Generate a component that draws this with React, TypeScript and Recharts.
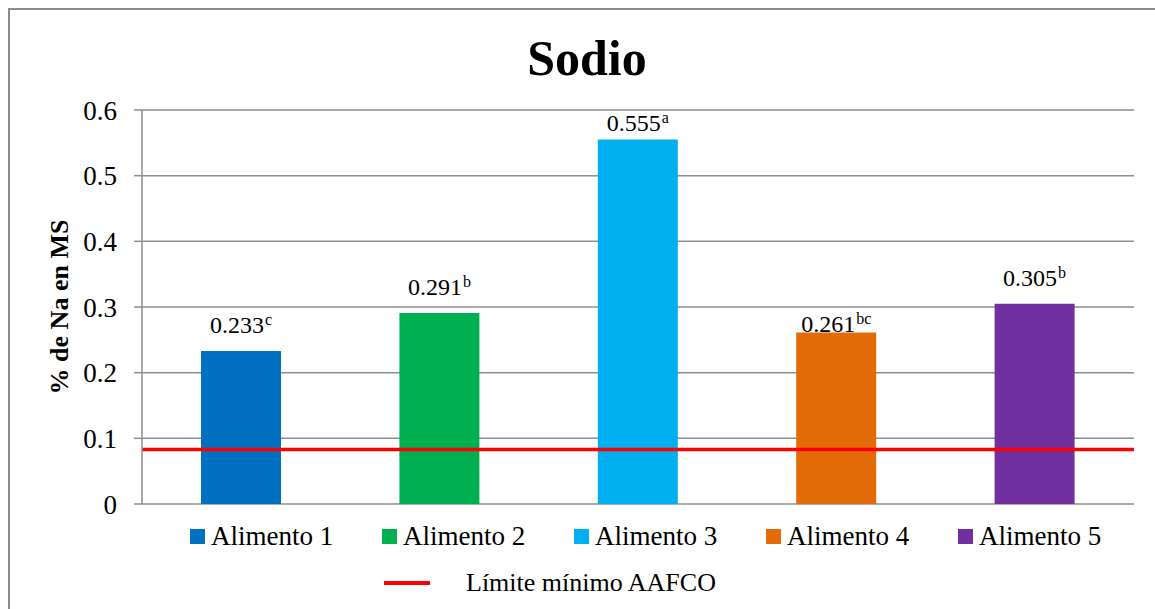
import { BarChart, Bar, Cell, XAxis, YAxis, CartesianGrid, ReferenceLine, LabelList } from "recharts";

const foods = ["Alimento 1", "Alimento 2", "Alimento 3", "Alimento 4", "Alimento 5"];
const sodium = [0.233, 0.291, 0.555, 0.261, 0.305];
const groups = ["c", "b", "a", "bc", "b"];
const colors = ["#0070C0", "#00B050", "#00B0F0", "#E36C09", "#7030A0"];
const aafcoMin = 0.083;
const yTicks = [0, 0.1, 0.2, 0.3, 0.4, 0.5, 0.6];

const data = foods.map((name, i) => ({ name, value: sodium[i], group: groups[i] }));

const FONT = '"Liberation Serif", "Times New Roman", serif';
const GRID = "#8e8e8e";

// labels sit above the bars; two of them were nudged down by hand
const labelLift: Record<string, number> = { "Alimento 3": 9, "Alimento 4": 1 };

function ValueLabel(props: any) {
  const { x, y, width, index } = props;
  const d = data[index];
  const lift = labelLift[d.name] ?? 18;
  return (
    <text x={x + width / 2} y={y - lift} textAnchor="middle" fontSize={24} fill="#000" fontFamily={FONT}>
      <tspan>{d.value.toFixed(3)}</tspan>
      <tspan dx={1} dy={-8} fontSize={16}>{d.group}</tspan>
    </text>
  );
}

export default function App() {
  return (
    <div style={{ position: "absolute", left: 0, top: 0, width: 1155, height: 609, overflow: "hidden", background: "#fff", fontFamily: FONT }}>
      <div style={{ position: "absolute", left: 8, top: 8, width: 1200, height: 700, border: "2px solid #8c8c8c" }} />
      <BarChart
        width={1155}
        height={609}
        data={data}
        margin={{ top: 110, right: 21, bottom: 105, left: 0 }}
        style={{ position: "absolute", left: 0, top: 0 }}
      >
        <CartesianGrid vertical={false} stroke={GRID} strokeWidth={1.5} />
        <XAxis dataKey="name" hide />
        <YAxis
          width={142}
          domain={[0, 0.6]}
          ticks={yTicks}
          tickSize={8}
          tickMargin={17}
          tick={{ fontSize: 27, fill: "#000", fontFamily: FONT }}
          axisLine={{ stroke: GRID, strokeWidth: 1.5 }}
          tickLine={{ stroke: GRID, strokeWidth: 1.5 }}
        />
        <Bar dataKey="value" barSize={80} isAnimationActive={false}>
          {data.map((d, i) => (
            <Cell key={d.name} fill={colors[i]} />
          ))}
          <LabelList dataKey="value" content={ValueLabel} />
        </Bar>
        <ReferenceLine y={aafcoMin} stroke="#FF0000" strokeWidth={3.5} />
      </BarChart>

      <svg width={1155} height={609} style={{ position: "absolute", left: 0, top: 0, pointerEvents: "none" }}>
        <text x={587} y={75} textAnchor="middle" fontSize={50} fontWeight="bold" fontFamily={FONT}>
          Sodio
        </text>
        <text
          transform="translate(68,307) rotate(-90)"
          textAnchor="middle"
          fontSize={26}
          fontWeight="bold"
          fontFamily={FONT}
        >
          % de Na en MS
        </text>
      </svg>

      <div style={{ position: "absolute", left: 190, top: 520, display: "flex", fontSize: 27, lineHeight: "32px" }}>
        {foods.map((f, i) => (
          <div key={f} style={{ width: 192, display: "flex", alignItems: "center" }}>
            <span style={{ width: 15, height: 15, background: colors[i], marginRight: 6, flex: "none" }} />
            <span>{f}</span>
          </div>
        ))}
      </div>
      <div style={{ position: "absolute", left: 384, top: 567, display: "flex", alignItems: "center", fontSize: 26, lineHeight: "32px" }}>
        <span style={{ width: 46, height: 4, background: "#FF0000", marginRight: 36 }} />
        <span>Límite mínimo AAFCO</span>
      </div>
    </div>
  );
}
